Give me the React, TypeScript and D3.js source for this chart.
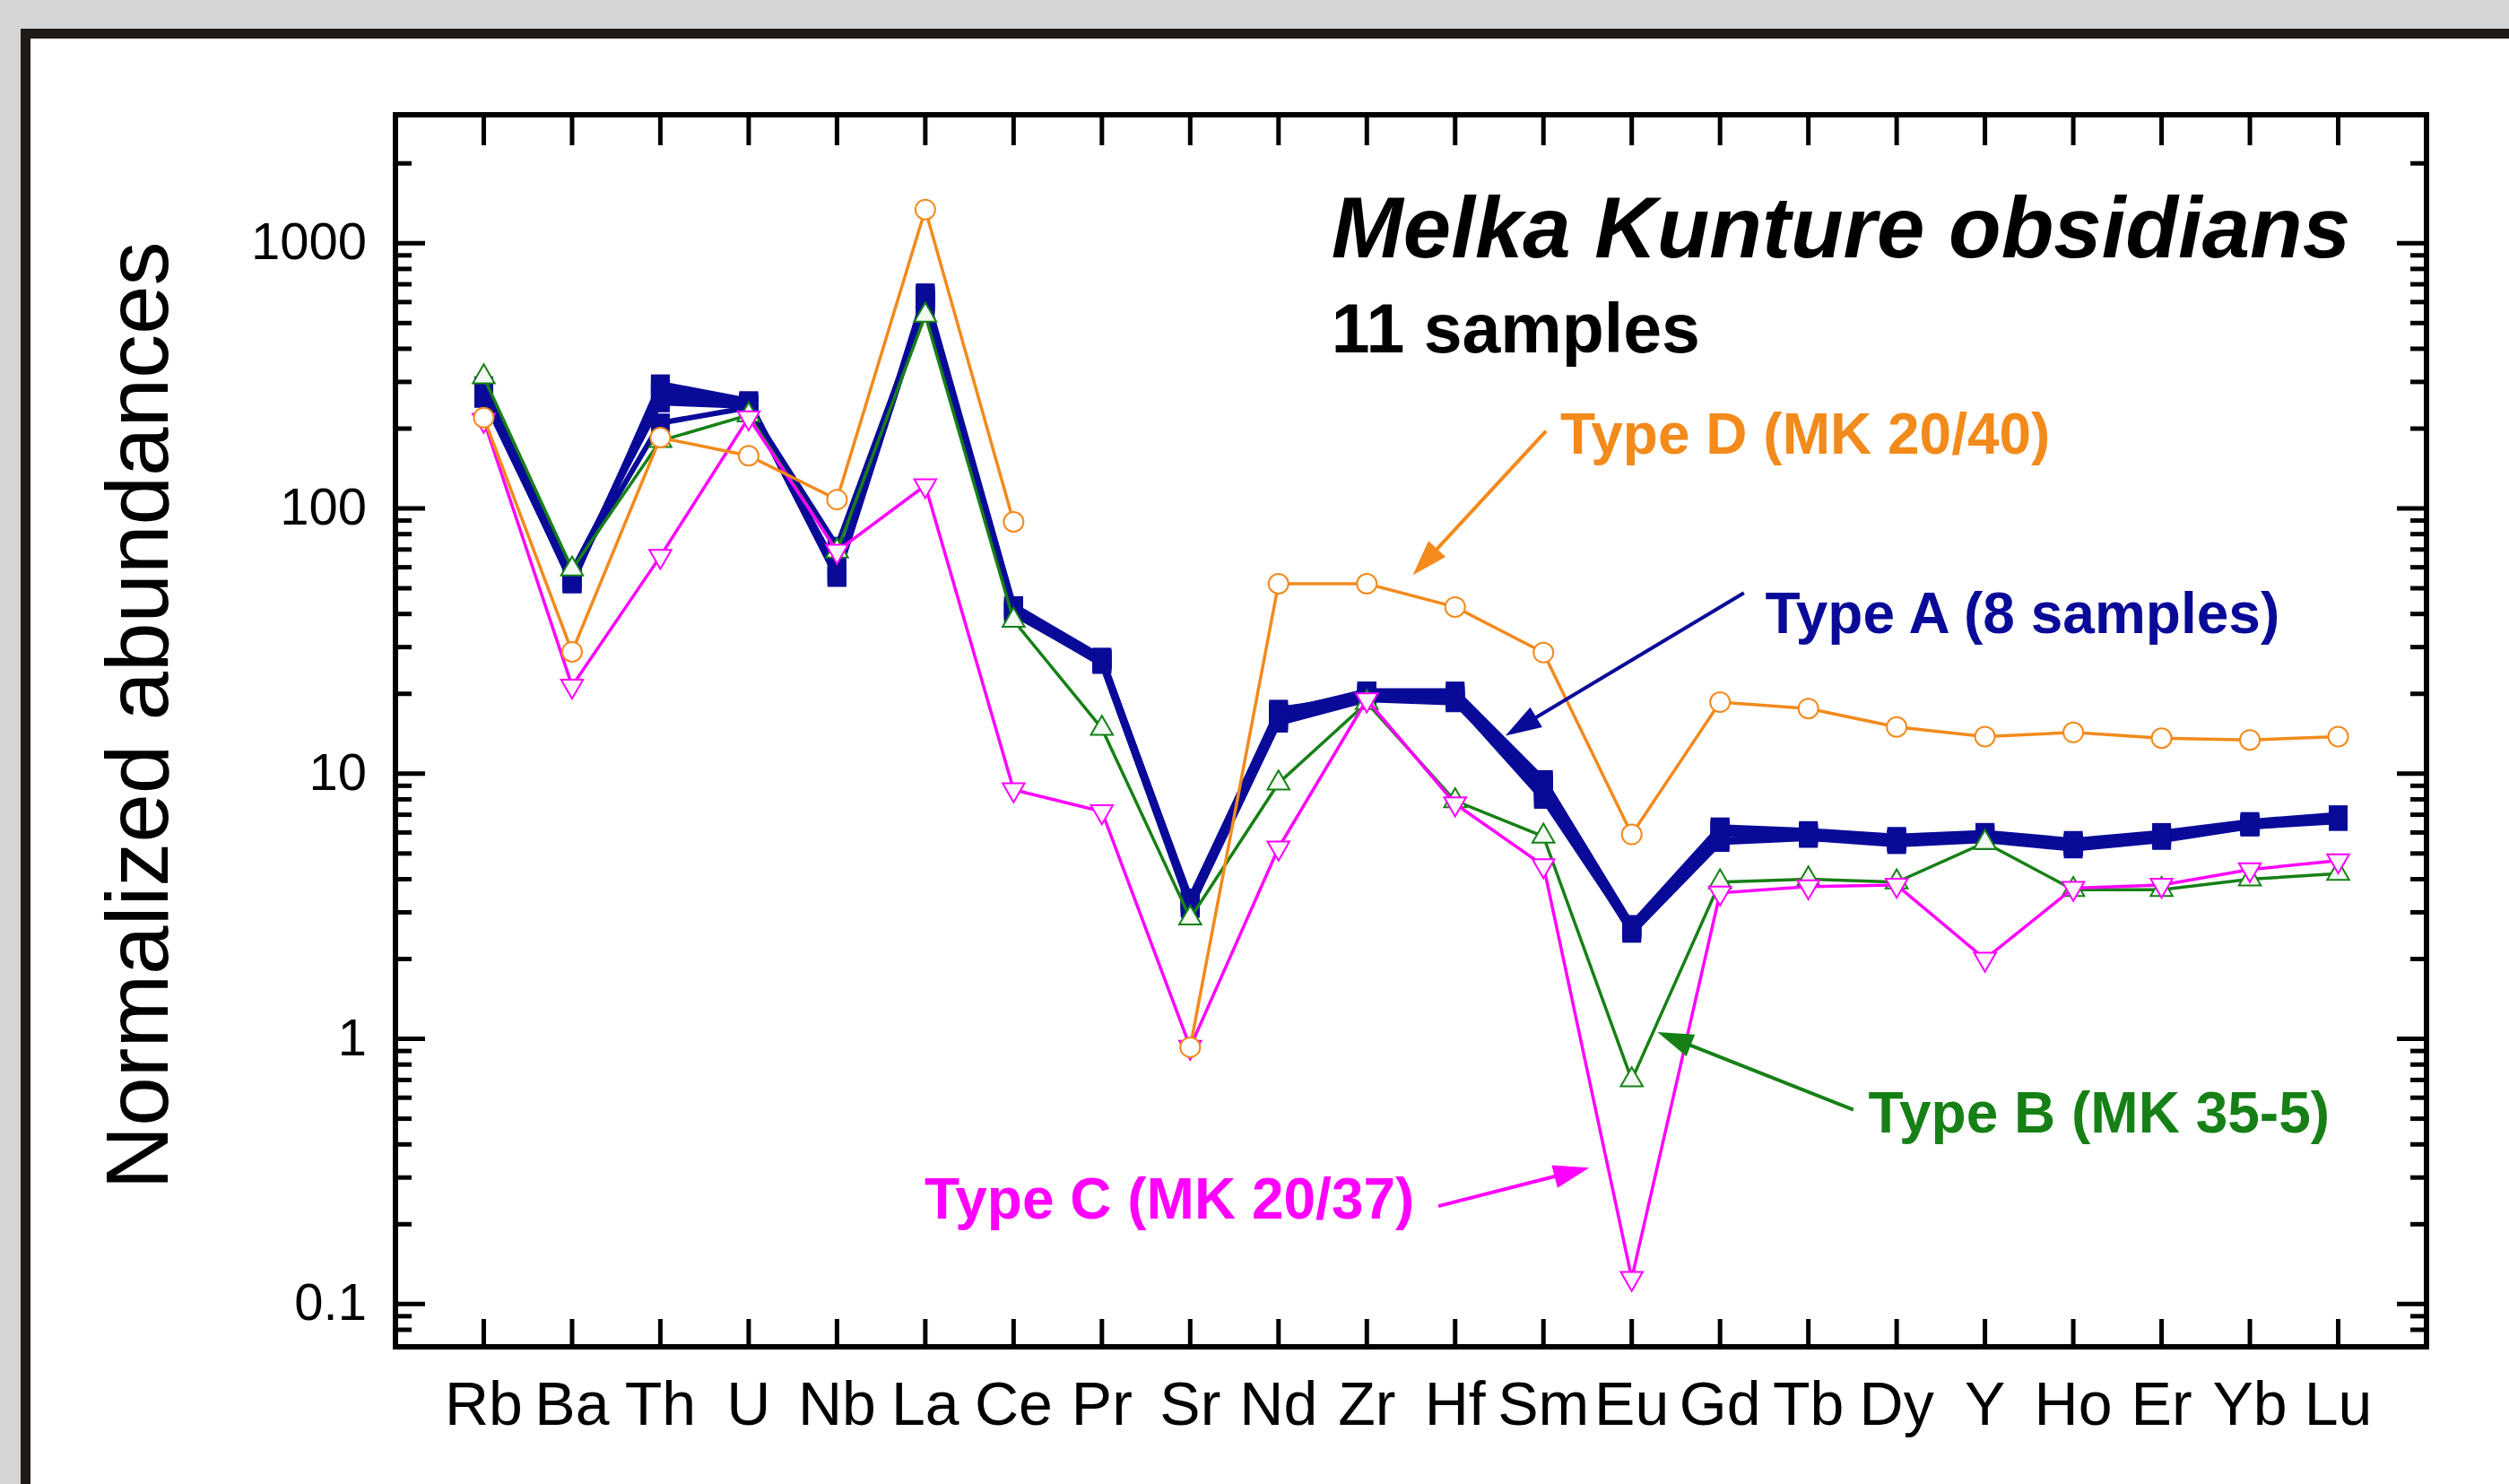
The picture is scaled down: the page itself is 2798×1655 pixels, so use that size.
import * as d3 from 'd3';

// trace elements on the x axis
const elements = ['Rb', 'Ba', 'Th', 'U', 'Nb', 'La', 'Ce', 'Pr', 'Sr', 'Nd', 'Zr', 'Hf', 'Sm', 'Eu', 'Gd', 'Tb', 'Dy', 'Y', 'Ho', 'Er', 'Yb', 'Lu'];

// Type A, 8 samples (normalized abundances)
const typeA1 = [268, 52, 290, 250, 55, 640, 42, 27, 3.3, 17, 20.5, 19.5, 9.3, 2.6, 6.2, 5.9, 5.6, 5.9, 5.4, 5.8, 6.4, 6.8];
const typeA2 = [280, 55, 280, 245, 56, 620, 41, 26.5, 3.2, 16.5, 20, 20, 9.0, 2.55, 6.1, 6.0, 5.7, 5.8, 5.5, 5.9, 6.5, 6.9];
const typeA3 = [260, 53, 270, 248, 57, 600, 43, 27.5, 3.35, 17.5, 19.5, 19, 8.8, 2.65, 5.9, 5.8, 5.5, 6.0, 5.3, 5.7, 6.3, 6.7];
const typeA4 = [290, 57, 210, 240, 72, 580, 40, 26, 3.1, 15.5, 19, 18.5, 8.5, 2.5, 5.5, 5.7, 5.4, 5.6, 5.2, 5.6, 6.3, 6.6];
const typeA5 = [275, 54, 285, 252, 58, 630, 42, 27, 3.25, 16, 20.5, 20.5, 9.5, 2.7, 6.3, 6.1, 5.8, 6.0, 5.6, 6.0, 6.6, 7.0];
const typeA6 = [265, 56, 260, 246, 55, 610, 41.5, 26.8, 3.3, 16.8, 19.8, 19.2, 8.2, 2.6, 6.0, 5.9, 5.6, 5.9, 5.4, 5.8, 6.4, 6.8];
const typeA7 = [285, 52, 295, 255, 56, 650, 43, 27.2, 3.4, 17.2, 20.2, 19.8, 9.1, 2.62, 6.2, 5.95, 5.65, 5.85, 5.45, 5.85, 6.45, 6.85];
const typeA8 = [270, 58, 250, 243, 60, 590, 40.5, 25.8, 3.15, 15.8, 19.3, 18.8, 8.0, 2.55, 5.6, 5.8, 5.5, 5.7, 5.3, 5.7, 6.35, 6.7];
// Type B (MK 35-5)
const typeB = [313, 59, 180, 225, 69, 535, 37.8, 14.8, 2.85, 9.2, 18.5, 7.9, 5.8, 0.7, 3.9, 4.0, 3.9, 5.5, 3.65, 3.65, 4.0, 4.2];
// Type C (MK 20/37)
const typeC = [215, 21.4, 66, 220, 69, 122, 8.7, 7.2, 0.93, 5.25, 19, 7.7, 4.5, 0.125, 3.55, 3.75, 3.8, 2.0, 3.7, 3.8, 4.35, 4.7];
// Type D (MK 20/40), Pr not reported
const typeD = [220, 28.8, 185, 158, 108, 1340, 89, null, 0.93, 52, 52, 42.5, 28.6, 5.9, 18.6, 17.6, 15, 13.8, 14.3, 13.6, 13.4, 13.8];

const yMajorTicks = [0.1, 1, 10, 100, 1000];
const yTickLabels = ['0.1', '1', '10', '100', '1000'];

// annotation labels: [element index, value] anchors
const annotations = [
  { text: 'Type D (MK 20/40)', color: '#f28a1c', at: [12.19, 161], from: [12.03, 196], to: [10.52, 56] },
  { text: 'Type A (8 samples)', color: '#0a0a99', at: [14.51, 33.9], from: [14.27, 48], to: [11.57, 13.9] },
  { text: 'Type B (MK 35-5)', color: '#168016', at: [15.68, 0.444], from: [15.51, 0.54], to: [13.29, 1.06] },
  { text: 'Type C (MK 20/37)', color: '#ff00ff', at: [4.99, 0.21], from: [10.81, 0.234], to: [12.52, 0.327] },
];

const FONT = "'Liberation Sans', Arial, Helvetica, sans-serif";
const NAVY = '#0a0a99';
const GREEN = '#168016';
const MAGENTA = '#ff00ff';
const ORANGE = '#f28a1c';

const App = () => {
  const width = 2798;
  const height = 1655;
  const left = 441, right = 2706, top = 128, bottom = 1502;

  const x = d3.scalePoint<string>().domain(elements).range([left, right]).padding(1);
  const xi = d3.scaleLinear()
    .domain([0, elements.length - 1])
    .range([x(elements[0]) as number, x(elements[elements.length - 1]) as number]);
  const y = d3.scaleLog().domain([0.069, 3050]).range([bottom, top]);

  const minorTicks: number[] = [];
  for (let e = -2; e <= 3; e++) {
    for (let k = 2; k <= 9; k++) {
      const v = k * Math.pow(10, e);
      if (y(v) < bottom - 4 && y(v) > top + 4) minorTicks.push(v);
    }
  }

  const line = d3.line<number | null>()
    .defined(d => d != null)
    .x((_, i) => x(elements[i]) as number)
    .y(d => y(d as number));

  const sq = d3.symbol().type(d3.symbolSquare).size(21 * 21)() as string;
  const tri = d3.symbol().type(d3.symbolTriangle).size(260)() as string;

  const typeA = [typeA1, typeA2, typeA3, typeA4, typeA5, typeA6, typeA7, typeA8];

  const arrow = (from: number[], to: number[], color: string, i: number) => {
    const x0 = xi(from[0]), y0 = y(from[1]);
    const x1 = xi(to[0]), y1 = y(to[1]);
    const dx = x1 - x0, dy = y1 - y0;
    const len = Math.hypot(dx, dy);
    const ux = dx / len, uy = dy / len;
    const hl = 40, hw = 13;
    const bx = x1 - ux * hl, by = y1 - uy * hl;
    const pts = [
      [x1, y1],
      [bx - uy * hw, by + ux * hw],
      [bx + uy * hw, by - ux * hw],
    ];
    return (
      <g key={'arr' + i}>
        <line x1={x0} y1={y0} x2={bx + ux * 2} y2={by + uy * 2} stroke={color} strokeWidth={4} />
        <polygon points={pts.map(p => p.join(',')).join(' ')} fill={color} />
      </g>
    );
  };

  return (
    <svg width={width} height={height} style={{ position: 'absolute', left: 0, top: 0 }} fontFamily={FONT}>
      <rect x={0} y={0} width={width} height={height} fill="#d5d5d5" />
      <rect x={28.5} y={37.5} width={width} height={height} fill="#fff" stroke="#1e1a18" strokeWidth={11} />

      {/* y axis ticks, both sides */}
      {yMajorTicks.map((v, i) => (
        <g key={'ym' + i}>
          <line x1={left} x2={left + 33} y1={y(v)} y2={y(v)} stroke="#000" strokeWidth={5} />
          <line x1={right} x2={right - 33} y1={y(v)} y2={y(v)} stroke="#000" strokeWidth={5} />
          <text x={409} y={y(v) + 18} textAnchor="end" fontSize={58}>{yTickLabels[i]}</text>
        </g>
      ))}
      {minorTicks.map((v, i) => (
        <g key={'yn' + i}>
          <line x1={left} x2={left + 18} y1={y(v)} y2={y(v)} stroke="#000" strokeWidth={5} />
          <line x1={right} x2={right - 18} y1={y(v)} y2={y(v)} stroke="#000" strokeWidth={5} />
        </g>
      ))}

      {/* x axis ticks, both sides */}
      {elements.map(el => (
        <g key={'xt' + el}>
          <line x1={x(el)} x2={x(el)} y1={bottom} y2={bottom - 31} stroke="#000" strokeWidth={5} />
          <line x1={x(el)} x2={x(el)} y1={top} y2={top + 34} stroke="#000" strokeWidth={5} />
          <text x={x(el)} y={1589} textAnchor="middle" fontSize={68}>{el}</text>
        </g>
      ))}

      <rect x={left} y={top} width={right - left} height={bottom - top} fill="none" stroke="#000" strokeWidth={6} />

      <text transform={`translate(187, 798) rotate(-90)`} textAnchor="middle" fontSize={98}>Normalized abundances</text>

      {/* Type A */}
      {typeA.map((s, i) => (
        <path key={'al' + i} d={line(s) as string} fill="none" stroke={NAVY} strokeWidth={6} strokeLinejoin="round" />
      ))}
      {typeA.map((s, i) => s.map((v, j) => (
        <path key={'am' + i + '-' + j} d={sq} transform={`translate(${x(elements[j])},${y(v)})`} fill={NAVY} />
      )))}

      {/* Type B */}
      <path d={line(typeB) as string} fill="none" stroke={GREEN} strokeWidth={3.5} />
      {typeB.map((v, j) => (
        <path key={'bm' + j} d={tri} transform={`translate(${x(elements[j])},${y(v)})`} fill="#f2f8f2" stroke={GREEN} strokeWidth={2} />
      ))}

      {/* Type C */}
      <path d={line(typeC) as string} fill="none" stroke={MAGENTA} strokeWidth={3.5} />
      {typeC.map((v, j) => (
        <path key={'cm' + j} d={tri} transform={`translate(${x(elements[j])},${y(v)}) rotate(180)`} fill="#fff6ff" stroke={MAGENTA} strokeWidth={2} />
      ))}

      {/* Type D */}
      <path d={line(typeD) as string} fill="none" stroke={ORANGE} strokeWidth={3.5} />
      {typeD.map((v, j) => v == null ? null : (
        <circle key={'dm' + j} cx={x(elements[j])} cy={y(v)} r={11} fill="#fff" stroke={ORANGE} strokeWidth={2} />
      ))}

      {/* annotations */}
      {annotations.map((a, i) => arrow(a.from, a.to, a.color, i))}
      {annotations.map((a, i) => (
        <text key={'at' + i} x={xi(a.at[0])} y={y(a.at[1])} fontSize={64} fontWeight="bold" fill={a.color}>{a.text}</text>
      ))}

      <text x={xi(9.6)} y={y(883)} fontSize={96} fontWeight="bold" fontStyle="italic">Melka Kunture obsidians</text>
      <text x={xi(9.6)} y={y(389)} fontSize={77} fontWeight="bold">11 samples</text>
    </svg>
  );
};

export default App;
